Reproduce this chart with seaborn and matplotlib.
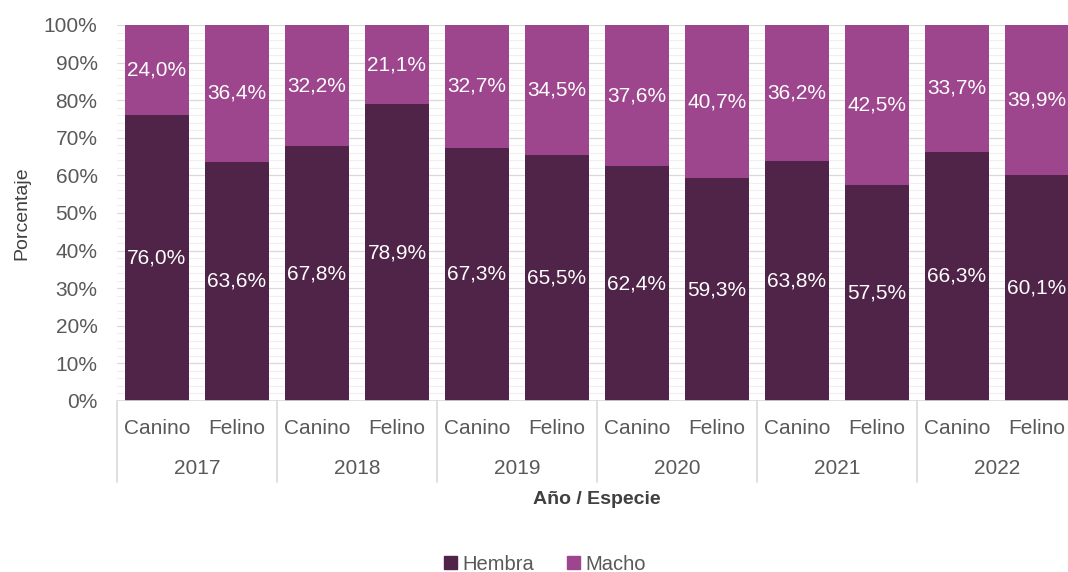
import matplotlib
matplotlib.use("Agg")
import matplotlib.pyplot as plt
import matplotlib.transforms as mtransforms
from matplotlib.patches import Patch
import seaborn as sns
import pandas as pd
import numpy as np

years = ["2017", "2018", "2019", "2020", "2021", "2022"]
species = ["Canino", "Felino"]
hembra = [76.0, 63.6, 67.8, 78.9, 67.3, 65.5, 62.4, 59.3, 63.8, 57.5, 66.3, 60.1]
macho = [24.0, 36.4, 32.2, 21.1, 32.7, 34.5, 37.6, 40.7, 36.2, 42.5, 33.7, 39.9]

c_hembra = "#502448"
c_macho = "#9D468D"
txt_gray = "#595959"

sns.set_theme(style="white")
plt.rcParams["font.family"] = ["Liberation Sans", "DejaVu Sans"]

labels = [f"{y}-{s}" for y in years for s in species]
df = pd.DataFrame({"cat": labels, "Hembra": hembra, "Macho": macho})
df["total"] = df["Hembra"] + df["Macho"]

W, H = 1068, 572
fig = plt.figure(figsize=(W / 100, H / 100), dpi=100)
left, right, top, bottom = 117, 1077, 25, 401
ax = fig.add_axes([left / W, 1 - bottom / H, (right - left) / W, (bottom - top) / H])

sns.barplot(data=df, x="cat", y="total", color=c_macho, width=0.8, ax=ax,
            saturation=1, zorder=3, order=labels, linewidth=0, edgecolor="none")
sns.barplot(data=df, x="cat", y="Hembra", color=c_hembra, width=0.8, ax=ax,
            saturation=1, zorder=4, order=labels, linewidth=0, edgecolor="none")

ax.set_ylim(0, 100)
ax.set_xlim(-0.5, len(labels) - 0.5)

# grid
for v in np.arange(0, 101, 2):
    if v % 10 == 0:
        ax.axhline(v, color="#D9D9D9", lw=0.9, zorder=1)
    else:
        ax.axhline(v, color="#EFEFEF", lw=0.8, zorder=1)

ax.set_yticks(np.arange(0, 101, 10))
ax.set_yticklabels([f"{v}%" for v in range(0, 101, 10)], fontsize=15, color=txt_gray)
ax.tick_params(axis="y", length=0, pad=14)
ax.set_xticks([])
ax.set_xlabel("")
ax.set_ylabel("Porcentaje", fontsize=14, color="#404040", labelpad=10)
for s in ax.spines.values():
    s.set_visible(False)
ax.axhline(0, color="#D9D9D9", lw=1.2, zorder=5)

# value labels
fmt = lambda v: f"{v:.1f}".replace(".", ",") + "%"
for i, (h, m) in enumerate(zip(hembra, macho)):
    ax.text(i, h / 2, fmt(h), ha="center", va="center", color="white", fontsize=15, zorder=6)
    ax.text(i, h + m / 2, fmt(m), ha="center", va="center", color="white", fontsize=15, zorder=6)

# category axis
trans = mtransforms.blended_transform_factory(ax.transData, fig.transFigure)
y_sp = 1 - 428 / H
y_yr = 1 - 468 / H
y_sep_top = 1 - bottom / H
y_sep_bot = 1 - 482 / H
for i, lab in enumerate(labels):
    sp = lab.split("-")[1]
    ax.text(i, y_sp, sp, transform=trans, ha="center", va="center", fontsize=15, color=txt_gray)
for g, yr in enumerate(years):
    ax.text(2 * g + 0.5, y_yr, yr, transform=trans, ha="center", va="center", fontsize=15, color=txt_gray)
for g in range(len(years) + 1):
    xs = 2 * g - 0.5
    ax.plot([xs, xs], [y_sep_top, y_sep_bot], transform=trans, color="#D9D9D9", lw=1.2, clip_on=False)

fig.text(597 / W, 1 - 500 / H, "Año / Especie", ha="center", va="center", fontsize=14,
         fontweight="bold", color="#404040")

handles = [Patch(color=c_hembra, label="Hembra"), Patch(color=c_macho, label="Macho")]
fig.legend(handles=handles, loc="center", bbox_to_anchor=(545 / W, 1 - 564 / H), ncol=2,
           frameon=False, fontsize=14.5, handlelength=0.65, handleheight=0.65, handletextpad=0.3,
           columnspacing=1.6, labelcolor=txt_gray)

fig.savefig("out.png", dpi=100)
